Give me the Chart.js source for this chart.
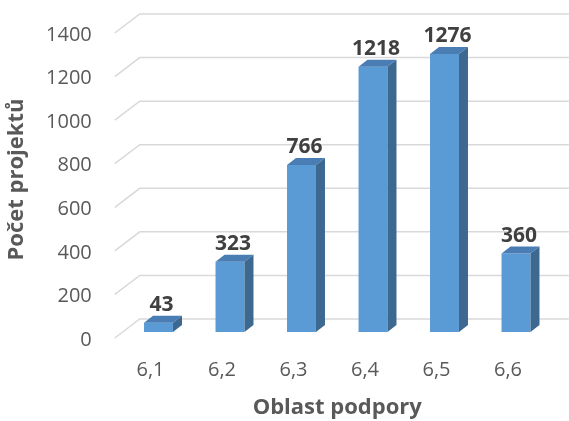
<!DOCTYPE html>
<html>
<head>
<meta charset="utf-8">
<script src="https://cdn.jsdelivr.net/npm/chart.js@4"></script>
<style>
  html, body { margin: 0; padding: 0; background: #fff; }
  #wrap { width: 569px; height: 421px; }
</style>
</head>
<body>
<div id="wrap"><canvas id="c" width="569" height="421"></canvas></div>
<script>
// Project counts per support area
const categories = ['6,1', '6,2', '6,3', '6,4', '6,5', '6,6'];
const projectCounts = [43, 323, 766, 1218, 1276, 360];
const yTickValues = [0, 200, 400, 600, 800, 1000, 1200, 1400];

const FONT = '"Open Sans", "DejaVu Sans", sans-serif';

// depth of the floor from front edge to back wall, and of each column
const wallFront = { dx: -8, dy: 6 };
const wallBack = { dx: 17, dy: -13 };
const barDepth = { dx: 9, dy: -7 };

const colors = {
  front: '#5B9BD5',
  top: '#4A7DB4',
  side: '#3D6890',
  grid: '#D9D9D9',
  tick: '#595959',
  label: '#404040',
  title: '#595959'
};

// back wall gridlines plus slanted floor lines, then column tops and sides
const wallPlugin = {
  id: 'wall3d',
  beforeDatasetsDraw(chart) {
    const { ctx, chartArea, scales } = chart;
    const y = scales.y;
    ctx.save();
    ctx.strokeStyle = colors.grid;
    ctx.lineWidth = 1.5;
    yTickValues.forEach(v => {
      const py = y.getPixelForValue(v);
      ctx.beginPath();
      ctx.moveTo(chartArea.left + wallFront.dx, py + wallFront.dy);
      ctx.lineTo(chartArea.left + wallBack.dx, py + wallBack.dy);
      ctx.lineTo(chartArea.right + wallBack.dx, py + wallBack.dy);
      ctx.stroke();
    });
    ctx.restore();
  },
  afterDatasetsDraw(chart) {
    const { ctx } = chart;
    const meta = chart.getDatasetMeta(0);
    ctx.save();
    meta.data.forEach((bar, i) => {
      const { x, y, base, width } = bar.getProps(['x', 'y', 'base', 'width'], true);
      const l = x - width / 2, r = x + width / 2;
      // top face
      ctx.fillStyle = colors.top;
      ctx.beginPath();
      ctx.moveTo(l, y);
      ctx.lineTo(l + barDepth.dx, y + barDepth.dy);
      ctx.lineTo(r + barDepth.dx, y + barDepth.dy);
      ctx.lineTo(r, y);
      ctx.closePath();
      ctx.fill();
      // right side face
      ctx.fillStyle = colors.side;
      ctx.beginPath();
      ctx.moveTo(r, y);
      ctx.lineTo(r + barDepth.dx, y + barDepth.dy);
      ctx.lineTo(r + barDepth.dx, base + barDepth.dy);
      ctx.lineTo(r, base);
      ctx.closePath();
      ctx.fill();
      // value label
      ctx.fillStyle = colors.label;
      ctx.font = 'bold 21px ' + FONT;
      ctx.textAlign = 'center';
      ctx.textBaseline = 'middle';
      ctx.fillText(String(projectCounts[i]), x + 3, y - 18);
    });
    ctx.restore();
  }
};

new Chart(document.getElementById('c'), {
  type: 'bar',
  data: {
    labels: categories,
    datasets: [{
      data: projectCounts,
      backgroundColor: colors.front,
      borderWidth: 0,
      categoryPercentage: 1,
      barPercentage: 0.405
    }]
  },
  options: {
    responsive: false,
    animation: false,
    events: [],
    layout: { padding: { left: 0, right: 17.25, top: 27, bottom: 0 } },
    plugins: { legend: { display: false }, tooltip: { enabled: false } },
    scales: {
      x: {
        grid: { display: false, drawTicks: false },
        border: { display: false },
        ticks: {
          color: colors.tick,
          font: { family: FONT, size: 20 },
          padding: 26,
          labelOffset: -8
        },
        title: {
          display: true,
          text: 'Oblast podpory',
          color: colors.title,
          font: { family: FONT, size: 22, weight: 'bold' },
          padding: { top: 1, bottom: 0 }
        },
        afterFit(scale) {
          scale.height = 89;
          scale.paddingLeft = 0;
          scale.paddingRight = 0;
        }
      },
      y: {
        min: 0,
        max: 1400,
        afterBuildTicks(scale) { scale.ticks = yTickValues.map(v => ({ value: v })); },
        grid: { display: false, drawTicks: false },
        border: { display: false },
        ticks: {
          color: colors.tick,
          font: { family: FONT, size: 20 },
          padding: 31,
          labelOffset: 8,
          callback: v => String(v)
        },
        title: {
          display: true,
          text: 'Počet projektů',
          color: colors.title,
          font: { family: FONT, size: 22, weight: 'bold' },
          padding: { top: 4, bottom: 0 }
        },
        afterFit(scale) {
          scale.width = 122.75;
          scale.paddingTop = 0;
          scale.paddingBottom = 0;
        }
      }
    }
  },
  plugins: [wallPlugin]
});
</script>
</body>
</html>
